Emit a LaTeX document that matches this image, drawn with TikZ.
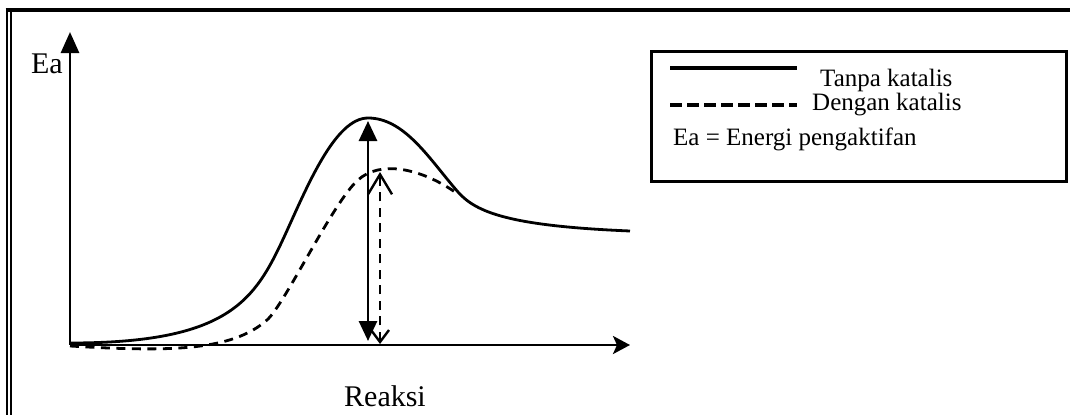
\documentclass[tikz,border=0pt]{standalone}
\usepackage{fontspec}
\setmainfont{Liberation Serif}
\usetikzlibrary{arrows.meta}
\tikzset{
  axis/.style={line width=2.8pt},
  curveS/.style={line width=2.8pt, line join=round},
  curveD/.style={line width=2.8pt, dash pattern=on 9pt off 6.5pt},
  lbl/.style={inner sep=0pt, font=\fontsize{30}{34}\selectfont},
  legtxt/.style={inner sep=0pt, anchor=base west, font=\fontsize{25}{29}\selectfont},
}
\begin{document}
\begin{tikzpicture}[x=1pt,y=-1pt]
\useasboundingbox (0,0) rectangle (1070,415);
% frame
\draw[line width=3.4pt] (5.5,10) -- (1070,10);
\draw[line width=2.4pt] (7,9) -- (7,415);
\draw[line width=2pt] (11,10) -- (11,415);
% axes
\coordinate (O) at (70,345);
\coordinate (ytip) at (70,32);
\coordinate (xtip) at (630,345);
\draw[axis,-{Triangle[width=18pt,length=21pt]}] (O) -- (ytip);
\draw[axis,-{Stealth[width=18pt,length=17pt,inset=4pt]}] (O) -- (xtip);
\node[lbl, anchor=base east] (ylab) at (63,73) {Ea};
\node[lbl, anchor=base] (xlab) at (385,406) {Reaksi};
% curves
\draw[curveS] (70,343) .. controls (230,343) and (255,300) .. (285,235)
  .. controls (307,187) and (335,118) .. (368,118)
  .. controls (405,118) and (430,160) .. (458,192)
  .. controls (476,212.5) and (510,226) .. (630,231);
\draw[curveD] (70,346) .. controls (170,352) and (232,351) .. (267,320)
  .. controls (285,304) and (333,202) .. (358,180)
  .. controls (380,160) and (420,168) .. (455,192);
% Ea arrows
\coordinate (topS) at (368,121);
\coordinate (botS) at (368,341);
\coordinate (topD) at (380,172);
\coordinate (botD) at (380,344);
\draw[line width=2.8pt, {Triangle[width=18pt,length=20pt]}-{Triangle[width=18pt,length=20pt]}] (botS) -- (topS);
\draw[curveD, {Straight Barb[width=18pt,length=12pt,line width=2.4pt]}-{Straight Barb[width=24pt,length=20pt,line width=2.4pt]}] (botD) -- (topD);
% legend
\node[draw, line width=2.6pt, minimum width=415pt, minimum height=130pt, inner sep=0pt, anchor=north west] (legbox) at (650,50) {};
\coordinate (l1a) at (670,68);
\coordinate (l1b) at (797,68);
\coordinate (l2a) at (670,105);
\coordinate (l2b) at (797,105);
\draw[line width=3.2pt] (l1a) -- (l1b);
\draw[line width=3.2pt, dash pattern=on 12pt off 5pt] (l2a) -- (l2b);
\node[legtxt] (leg1) at (820,86) {Tanpa katalis};
\node[legtxt] (leg2) at (812,110) {Dengan katalis};
\node[legtxt] (leg3) at (673,145) {Ea = Energi pengaktifan};
\end{tikzpicture}
\end{document}
